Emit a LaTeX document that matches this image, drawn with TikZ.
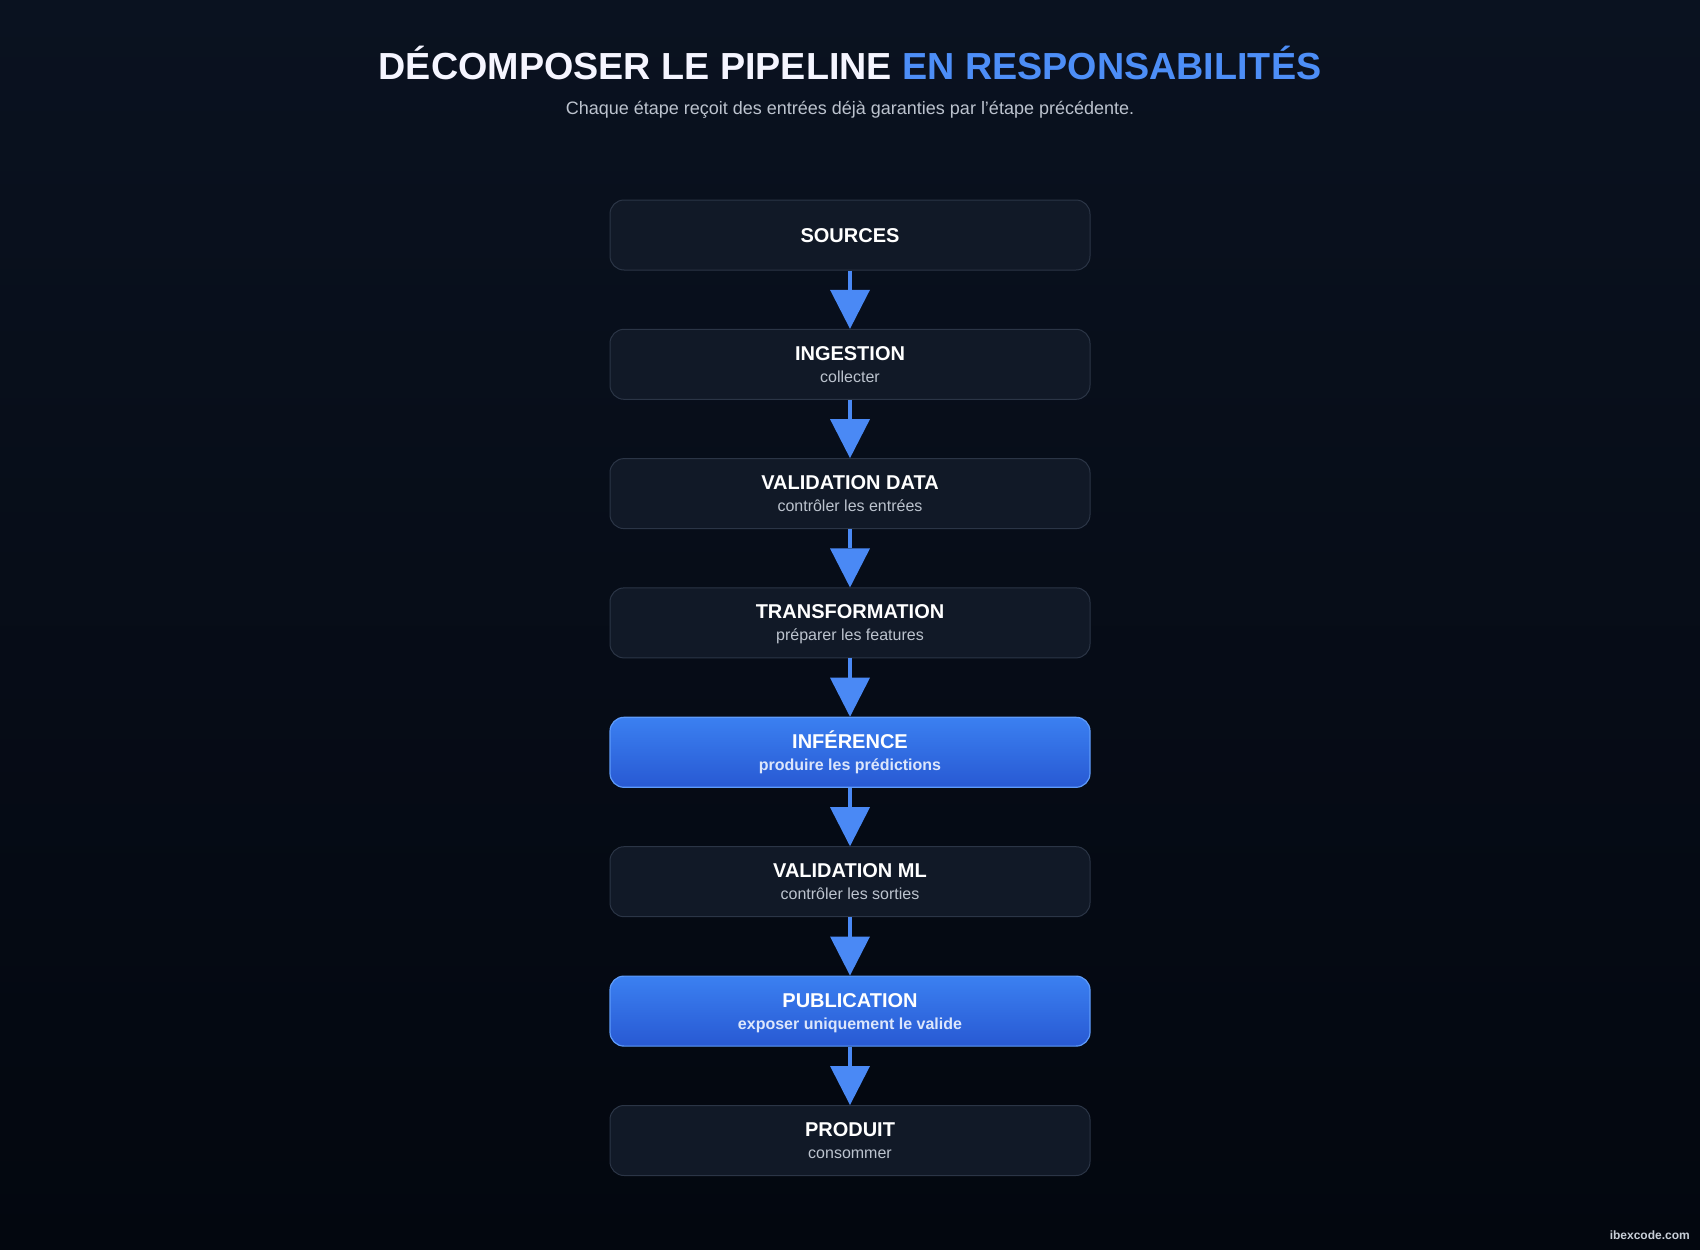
\documentclass[tikz,border=0pt]{standalone}
\usepackage{fontspec}
\setmainfont{Liberation Sans}
\usepackage{xcolor}
\usepackage{tikz}
\usetikzlibrary{positioning,arrows.meta}

\definecolor{bgtop}{HTML}{0A1220}
\definecolor{bgbot}{HTML}{03070F}
\definecolor{boxfill}{HTML}{111927}
\definecolor{boxline}{HTML}{2B3546}
\definecolor{bluetop}{HTML}{3B80F1}
\definecolor{bluebot}{HTML}{2859D3}
\definecolor{blueline}{HTML}{5E9BFA}
\definecolor{arrowblue}{HTML}{4A89F5}
\definecolor{titleblue}{HTML}{4D8EF7}
\definecolor{subgray}{HTML}{BCC3CE}
\definecolor{subblue}{HTML}{DCE6FB}
\definecolor{creditgray}{HTML}{C9CFD8}

\begin{document}
\begin{tikzpicture}[x=1pt,y=-1pt]

% \draw[step=50,gray,very thin] (0,0) grid (1700,1250);

\tikzstyle{stage} = [rectangle, rounded corners=14pt, minimum width=480pt, minimum height=70pt, inner sep=0pt]
\tikzstyle{darkstage} = [stage, draw=boxline, line width=1pt, fill=boxfill]
\tikzstyle{bluestage} = [stage, draw=blueline, line width=1.2pt, top color=bluetop, bottom color=bluebot]
\tikzstyle{stagetitle} = [anchor=base, inner sep=0pt, text=white, font=\fontsize{20}{24}\selectfont\bfseries]
\tikzstyle{stagesub} = [anchor=base, inner sep=0pt, text=subgray, font=\fontsize{16}{20}\selectfont]
\tikzstyle{bluesub} = [stagesub, text=subblue, font=\fontsize{16}{20}\selectfont\bfseries]
\tikzstyle{flow} = [draw=arrowblue, line width=4.5pt, -{Triangle[width=40pt,length=39pt,line width=0pt]}]

\shade[top color=bgtop, bottom color=bgbot] (0,0) rectangle (1700,1250);

\node (title) [anchor=base, inner sep=0pt, font=\fontsize{37.7}{44}\selectfont\bfseries] at (850,79)
  {\textcolor{white!96!blue}{DÉCOMPOSER LE PIPELINE} \textcolor{titleblue}{EN RESPONSABILITÉS}};
\node (subtitle) [anchor=base, inner sep=0pt, text=subgray, font=\fontsize{18}{22}\selectfont] at (850,114)
  {Chaque étape reçoit des entrées déjà garanties par l’étape précédente.};

\node (sources) [darkstage] at (850,235) {};
\node (sourcest) [stagetitle, yshift=-7.3pt] at (sources.center) {SOURCES};

\node (ingestion) [darkstage, below=58.3pt of sources] {};
\node (ingestiont) [stagetitle, yshift=4pt] at (ingestion.center) {INGESTION};
\node (ingestions) [stagesub, yshift=-18pt] at (ingestion.center) {collecter};

\node (valdata) [darkstage, below=58.3pt of ingestion] {};
\node (valdatat) [stagetitle, yshift=4pt] at (valdata.center) {VALIDATION DATA};
\node (valdatas) [stagesub, yshift=-18pt] at (valdata.center) {contrôler les entrées};

\node (transfo) [darkstage, below=58.3pt of valdata] {};
\node (transfot) [stagetitle, yshift=4pt] at (transfo.center) {TRANSFORMATION};
\node (transfos) [stagesub, yshift=-18pt] at (transfo.center) {préparer les features};

\node (inference) [bluestage, below=58.3pt of transfo] {};
\node (inferencet) [stagetitle, yshift=4pt] at (inference.center) {INFÉRENCE};
\node (inferences) [bluesub, yshift=-18pt] at (inference.center) {produire les prédictions};

\node (valml) [darkstage, below=58.3pt of inference] {};
\node (valmlt) [stagetitle, yshift=4pt] at (valml.center) {VALIDATION ML};
\node (valmls) [stagesub, yshift=-18pt] at (valml.center) {contrôler les sorties};

\node (publication) [bluestage, below=58.3pt of valml] {};
\node (publicationt) [stagetitle, yshift=4pt] at (publication.center) {PUBLICATION};
\node (publications) [bluesub, yshift=-18pt] at (publication.center) {exposer uniquement le valide};

\node (produit) [darkstage, below=58.3pt of publication] {};
\node (produitt) [stagetitle, yshift=4pt] at (produit.center) {PRODUIT};
\node (produits) [stagesub, yshift=-18pt] at (produit.center) {consommer};

\draw [flow] (sources.south) -- (ingestion.north);
\draw [flow] (ingestion.south) -- (valdata.north);
\draw [flow] (valdata.south) -- (transfo.north);
\draw [flow] (transfo.south) -- (inference.north);
\draw [flow] (inference.south) -- (valml.north);
\draw [flow] (valml.south) -- (publication.north);
\draw [flow] (publication.south) -- (produit.north);

\node (credit) [anchor=base east, inner sep=0pt, text=creditgray, font=\fontsize{12}{14}\selectfont\bfseries] at (1690,1239) {ibexcode.com};

\end{tikzpicture}
\end{document}
